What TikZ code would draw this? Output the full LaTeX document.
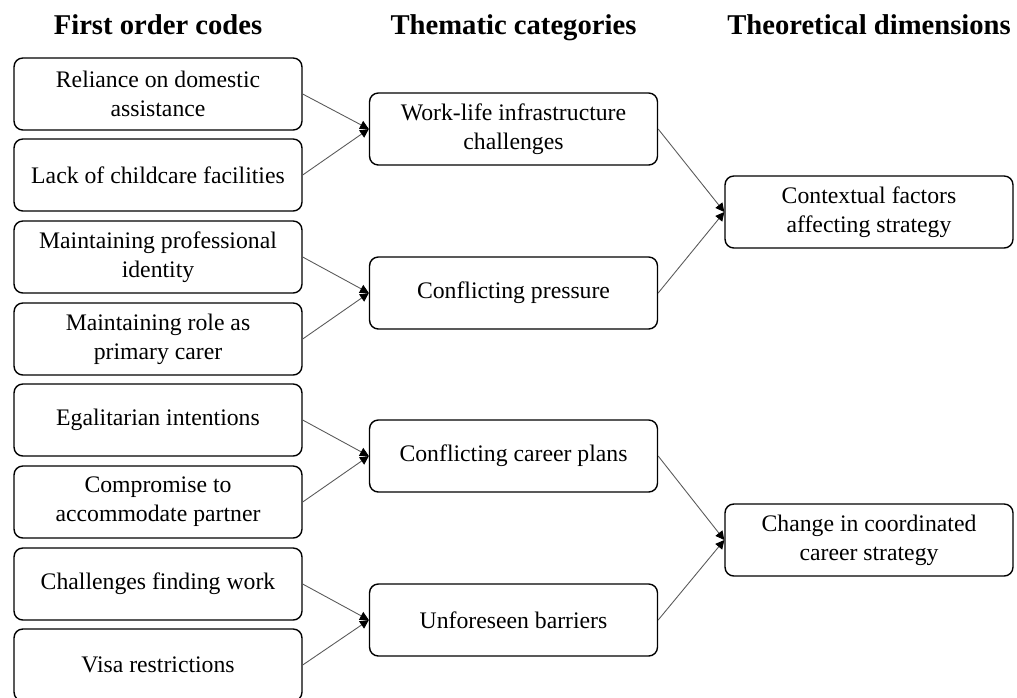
\documentclass[tikz,border=0pt]{standalone}
\usepackage{fontspec}
\setmainfont{Liberation Serif}
\usetikzlibrary{arrows.meta}

\begin{document}
\begin{tikzpicture}[x=0.02cm, y=-0.02cm,
        head_style/.style={anchor=base, font=\fontsize{16.3}{19}\selectfont\bfseries},
        code_style/.style={draw=black, line width=0.8pt, rounded corners=5pt, minimum width=5.76cm, minimum height=1.44cm, align=center, inner sep=0pt, font=\fontsize{13.5}{16.5}\selectfont},
        edge_style/.style={draw=black!65, line width=0.5pt, -{Triangle[length=5pt,width=5pt,color=black]}}]

        \useasboundingbox (0,0) rectangle (1017,697);

        % headers
        \node [head_style](h1) at (158,34) {First order codes};
        \node [head_style](h2) at (513.5,34) {Thematic categories};
        \node [head_style](h3) at (869,34) {Theoretical dimensions};

        % first order codes
        \node [code_style](lc1) at (158,94) {Reliance on domestic\\assistance};
        \node [code_style](lc2) at (158,175) {Lack of childcare facilities};
        \node [code_style](lc3) at (158,257) {Maintaining professional\\identity};
        \node [code_style](lc4) at (158,339) {Maintaining role as\\primary carer};
        \node [code_style](lc5) at (158,420) {Egalitarian intentions};
        \node [code_style](lc6) at (158,502) {Compromise to\\accommodate partner};
        \node [code_style](lc7) at (158,584) {Challenges finding work};
        \node [code_style](lc8) at (158,665) {Visa restrictions};

        % thematic categories
        \node [code_style](tc1) at (513.5,129) {Work-life infrastructure\\challenges};
        \node [code_style](tc2) at (513.5,293) {Conflicting pressure};
        \node [code_style](tc3) at (513.5,456) {Conflicting career plans};
        \node [code_style](tc4) at (513.5,620) {Unforeseen barriers};

        % theoretical dimensions
        \node [code_style](td1) at (869,212) {Contextual factors\\affecting strategy};
        \node [code_style](td2) at (869,540) {Change in coordinated\\career strategy};

        \draw [edge_style] (lc1.east) -- (tc1.west);
        \draw [edge_style] (lc2.east) -- (tc1.west);
        \draw [edge_style] (lc3.east) -- (tc2.west);
        \draw [edge_style] (lc4.east) -- (tc2.west);
        \draw [edge_style] (lc5.east) -- (tc3.west);
        \draw [edge_style] (lc6.east) -- (tc3.west);
        \draw [edge_style] (lc7.east) -- (tc4.west);
        \draw [edge_style] (lc8.east) -- (tc4.west);

        \draw [edge_style] (tc1.east) -- (td1.west);
        \draw [edge_style] (tc2.east) -- (td1.west);
        \draw [edge_style] (tc3.east) -- (td2.west);
        \draw [edge_style] (tc4.east) -- (td2.west);

\end{tikzpicture}
\end{document}
